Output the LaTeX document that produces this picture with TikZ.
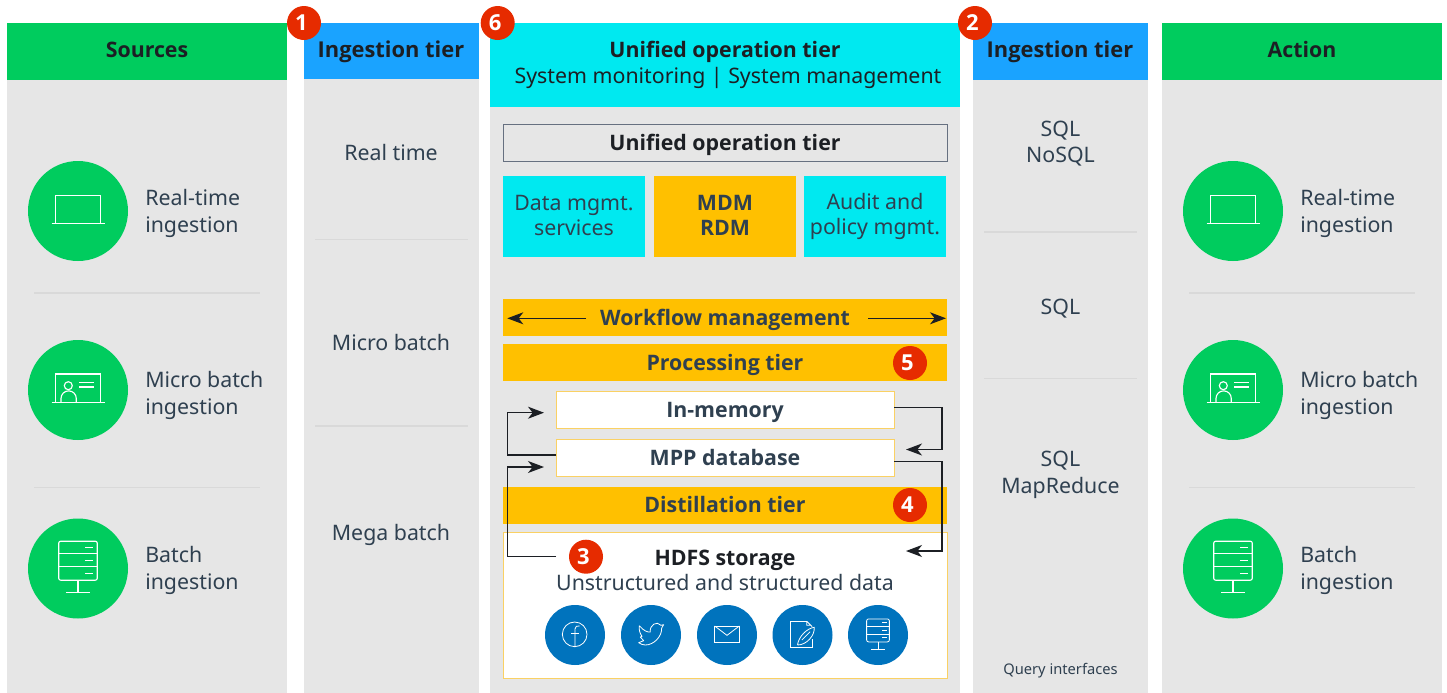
\documentclass[tikz,border=0pt]{standalone}
\usepackage{fontspec}
\setmainfont{Noto Sans}
\newfontfamily\osans{Open Sans}
\newcommand{\bs}{\osans\bfseries}
\usetikzlibrary{arrows.meta,calc}
\definecolor{grn}{HTML}{00CC5E}
\definecolor{skyb}{HTML}{1AA3FF}
\definecolor{cyn}{HTML}{00E9F0}
\definecolor{amb}{HTML}{FFC000}
\definecolor{pan}{HTML}{E6E6E6}
\definecolor{sep}{HTML}{D9D9D9}
\definecolor{badg}{HTML}{E62B00}
\definecolor{bluc}{HTML}{0073BD}
\definecolor{ylw}{HTML}{FAD164}
\definecolor{slate}{HTML}{2F4050}
\definecolor{ink}{HTML}{1C1F24}
\definecolor{edge}{HTML}{667080}
\newcommand{\fs}{\fontsize{16pt}{20pt}\selectfont}
\newcommand{\pxbox}[7]{\node[#2,anchor=north west,inner sep=0pt,outer sep=0pt,minimum width={(#5-#3)*0.75pt},minimum height={(#6-#4)*0.75pt}] (#1) at (#3,#4) {#7};}
\tikzset{
 x=0.75pt,y=-0.75pt,
 panel/.style={fill=pan},
 hgreen/.style={fill=grn},
 hblue/.style={fill=skyb},
 hcyan/.style={fill=cyn},
 hamber/.style={fill=amb},
 yellowbox/.style={fill=white,draw=ylw,line width=0.7pt},
 greybox/.style={fill=pan,draw=edge,line width=0.7pt},
 head/.style={anchor=base,font=\fs\bs,text=ink},
 headwide/.style={anchor=base,font=\fontsize{16.4pt}{20pt}\selectfont\bs,text=ink},
 headreg/.style={anchor=base,font=\fs,text=ink},
 tierlbl/.style={anchor=base,font=\fs\bs,text=slate},
 lbl/.style={anchor=base,font=\fs,text=slate},
 lbltwo/.style={align=center,font=\fontsize{16pt}{20pt}\selectfont,text=slate},
 lblleft/.style={align=left,anchor=west,inner sep=0pt,font=\fontsize{16pt}{20.25pt}\selectfont,text=slate},
 badge/.style={circle,fill=badg,text=white,font=\fontsize{16.5pt}{20pt}\selectfont\bs,minimum size=25.5pt,inner sep=0pt,execute at end node=\kern3.75pt},
 gcirc/.style={circle,fill=grn,minimum size=75pt,inner sep=0pt},
 bcirc/.style={circle,fill=bluc,minimum size=45pt,inner sep=0pt},
 sepline/.style={draw=sep,line width=0.8pt},
 conn/.style={draw=ink,line width=0.9pt,-{Stealth[length=12pt,width=9pt,inset=3.5pt]}},
 icon/.style={draw=white,line width=0.85pt},
 iconthin/.style={draw=white,line width=0.6pt},
 pics/laptop/.style={code={
   \draw[icon] (-22.3,12.3) -- (-22.3,-15.7) -- (22.7,-15.7) -- (22.7,12.3);
   \draw[icon] (-26.3,12.3) -- (26.7,12.3);}},
 pics/card/.style={code={
   \draw[icon] (-22.3,12.3) -- (-22.3,-16) -- (22.7,-16) -- (22.7,12.3);
   \draw[icon] (-26.3,12.3) -- (26.7,12.3);
   \draw[icon] (-9.7,-4.3) circle (4);
   \draw[icon] (-17,12.3) -- (-17,8.5) arc (180:360:7.65) -- (-1.7,12.3);
   \draw[icon] (1.3,-7.3) -- (16.3,-7.3) (1.3,-3) -- (16.3,-3);}},
 pics/server/.style={code={
   \draw[#1,rounded corners=1.5] (-19.3,-27.3) rectangle (19.3,11.7);
   \draw[#1] (-19.3,-14.6) -- (19.3,-14.6) (-19.3,-1.6) -- (19.3,-1.6);
   \draw[#1] (7,-20.7) -- (15.3,-20.7) (7,-8) -- (15.3,-8) (7,4.7) -- (15.3,4.7);
   \draw[#1] (0,11.7) -- (0,24.4) (-12,24.4) -- (12,24.4);}},
}
\begin{document}
\begin{tikzpicture}
\useasboundingbox (0,0) rectangle (1447,693);
% panels
\pxbox{psrc}{panel}{7}{23}{287}{693}{}
\pxbox{ping}{panel}{304}{23}{479}{693}{}
\pxbox{puni}{panel}{490}{23}{960}{693}{}
\pxbox{pout}{panel}{973}{23}{1148}{693}{}
\pxbox{pact}{panel}{1162}{23}{1442}{693}{}
% headers
\pxbox{hsrc}{hgreen}{7}{23}{287}{80}{}
\pxbox{hing}{hblue}{304}{23}{479}{79}{}
\pxbox{huni}{hcyan}{490}{23}{960}{107}{}
\pxbox{hout}{hblue}{973}{23}{1148}{80}{}
\pxbox{hact}{hgreen}{1162}{23}{1442}{80}{}
\node[head] (tsrc) at (147,57) {Sources};
\node[headwide] (ting) at (391,57) {Ingestion tier};
\node[head] (tuni) at (725,57) {Unified operation tier};
\node[headreg] (tuni2) at (728,83.5) {System monitoring | System management};
\node[headwide] (tout) at (1060,57) {Ingestion tier};
\node[head] (tact) at (1302,57) {Action};
% left column
\node[gcirc] (c1) at (78,211) {};
\node[gcirc] (c2) at (78,390) {};
\node[gcirc] (c3) at (78,568.5) {};
\pic at (c1) {laptop};
\pic at (c2) {card};
\pic at (c3) {server=icon};
\node[lblleft] (l1) at (145,213) {Real-time\\ingestion};
\node[lblleft] (l2) at (145,395) {Micro batch\\ingestion};
\node[lblleft] (l3) at (145,570) {Batch\\ingestion};
\coordinate (s1a) at (34,293); \coordinate (s1b) at (260,293);
\coordinate (s2a) at (34,487.5); \coordinate (s2b) at (260,487.5);
\draw[sepline] (s1a) -- (s1b) (s2a) -- (s2b);
% right column
\node[gcirc] (d1) at (1233,211) {};
\node[gcirc] (d2) at (1233,390) {};
\node[gcirc] (d3) at (1233,568.5) {};
\pic at (d1) {laptop};
\pic at (d2) {card};
\pic at (d3) {server=icon};
\node[lblleft] (r1) at (1300,213) {Real-time\\ingestion};
\node[lblleft] (r2) at (1300,395) {Micro batch\\ingestion};
\node[lblleft] (r3) at (1300,570) {Batch\\ingestion};
\coordinate (s3a) at (1189,293); \coordinate (s3b) at (1415,293);
\coordinate (s4a) at (1189,487.5); \coordinate (s4b) at (1415,487.5);
\draw[sepline] (s3a) -- (s3b) (s4a) -- (s4b);
% ingestion
\node[lbl] (i1) at (391,160) {Real time};
\node[lbl] (i2) at (391,350) {Micro batch};
\node[lbl] (i3) at (391,540) {Mega batch};
\coordinate (s5a) at (315,239.5); \coordinate (s5b) at (468,239.5);
\coordinate (s6a) at (315,426); \coordinate (s6b) at (468,426);
\draw[sepline] (s5a) -- (s5b) (s6a) -- (s6b);
% ingestion 2
\node[lbltwo,font=\fontsize{16pt}{19.5pt}\selectfont] (o1) at (1060.5,143.5) {SQL\\NoSQL};
\node[lbl] (o2) at (1060.5,314) {SQL};
\node[lbltwo] (o3) at (1060.5,475) {SQL\\MapReduce};
\node[anchor=base,font=\fontsize{11pt}{13pt}\selectfont,text=slate] (o4) at (1060.5,674) {Query interfaces};
\coordinate (s7a) at (984,232); \coordinate (s7b) at (1137,232);
\coordinate (s8a) at (984,378.5); \coordinate (s8b) at (1137,378.5);
\draw[sepline] (s7a) -- (s7b) (s8a) -- (s8b);
% centre
\pxbox{u1}{greybox}{503.5}{124}{947}{161}{}
\node[head] at (725,150) {Unified operation tier};
\pxbox{u2}{hcyan}{503}{176}{645}{257}{}
\pxbox{u3}{hamber}{654}{176}{796}{257}{}
\pxbox{u4}{hcyan}{804}{176}{946}{257}{}
\node[lbltwo,font=\fontsize{16pt}{18.75pt}\selectfont] at (574,215) {Data mgmt.\\services};
\node[lbltwo,font=\fontsize{16pt}{18.75pt}\selectfont\bs] at (725,215) {MDM\\RDM};
\node[lbltwo,font=\fontsize{16pt}{18.75pt}\selectfont] at (875,216) {Audit and\\policy mgmt.};
\pxbox{wf}{hamber}{503}{299}{947}{336}{}
\pxbox{proc}{hamber}{503}{344}{947}{381}{}
\pxbox{dist}{hamber}{503}{487}{947}{524}{}
\pxbox{mem}{yellowbox}{556}{391}{894}{428}{}
\pxbox{mpp}{yellowbox}{556}{439}{894}{476}{}
\pxbox{hdfs}{yellowbox}{503.5}{532}{947}{678}{}
\node[tierlbl] at (725,325.5) {Workflow management};
\node[tierlbl] at (725,370) {Processing tier};
\node[tierlbl] at (725,417) {In-memory};
\node[tierlbl] at (725,465) {MPP database};
\node[tierlbl] at (725,512) {Distillation tier};
\node[head] at (725,565) {HDFS storage};
\node[lbl] at (725,590) {Unstructured and structured data};
% workflow arrows
\coordinate (wl1) at (586,318.3); \coordinate (wl2) at (507.3,318.3);
\coordinate (wr1) at (868,318.3); \coordinate (wr2) at (946,318.3);
\draw[conn] (wl1) -- (wl2);
\draw[conn] (wr1) -- (wr2);
% connectors
\coordinate (a1) at (544,412.7);
\coordinate (a2) at (544,467);
\coordinate (a3s) at (556,556.3);
\coordinate (a4) at (906,449.5);
\coordinate (a5) at (906,551);
\coordinate (lx) at (507.7,0);
\coordinate (rx) at (942,0);
\coordinate (m1) at (894,407.3);
\coordinate (m2) at (894,461.7);
\draw[conn] ($(mpp.west)+(0,-2.5)$) -- (lx |- {$(mpp.west)+(0,-2.5)$}) -- (lx |- a1) -- (a1);
\draw[conn] (a3s) -- (lx |- a3s) -- (lx |- a2) -- (a2);
\draw[conn] (m1) -- (rx |- m1) -- (rx |- a4) -- (a4);
\draw[conn] (m2) -- (rx |- m2) -- (rx |- a5) -- (a5);
% blue circles
\node[bcirc] (b1) at (575,635) {};
\node[bcirc] (b2) at (651,635) {};
\node[bcirc] (b3) at (727,635) {};
\node[bcirc] (b4) at (802.5,635) {};
\node[bcirc] (b5) at (878,635) {};
% facebook
\begin{scope}[shift={(b1)},x=0.25pt,y=-0.25pt]
\draw[iconthin] (-1,-2) circle (37);
\draw[iconthin] (0,36) -- (0,-18) .. controls (0,-26) and (6,-29) .. (14,-27);
\draw[iconthin] (-12,-4) -- (12,-4);
\end{scope}
% twitter
\begin{scope}[shift={(b2)},x=0.25pt,y=-0.25pt]
\draw[iconthin,line join=round] (-35,-28) .. controls (-22,-12) and (-10,-8) .. (-2,-9)
 .. controls (-5,-30) and (18,-44) .. (30,-29) -- (38,-31) -- (32,-21)
 .. controls (33,5) and (8,30) .. (-17,30) .. controls (-24,30) and (-32,27) .. (-37,23)
 -- (-22,17) -- (-32,6) -- (-27,4) .. controls (-33,-4) and (-37,-16) .. (-35,-28);
\end{scope}
% mail
\begin{scope}[shift={(b3)},x=0.25pt,y=-0.25pt]
\draw[iconthin] (-37,-27) rectangle (37,22);
\draw[iconthin] (-37,-27) -- (0,1) -- (37,-27);
\end{scope}
% document
\begin{scope}[shift={(b4)},x=0.25pt,y=-0.25pt]
\draw[iconthin] (13,-41) -- (-36,-41) -- (-36,37) -- (29,37) -- (29,12);
\draw[iconthin] (13,-41) -- (29,-25) (13,-41) -- (13,-29) -- (25,-29);
\draw[iconthin] (-15,30) .. controls (-12,5) and (13,-20) .. (35,-23) .. controls (38,0) and (13,30) .. (-15,30);
\draw[iconthin] (-2,15) -- (23,-10);
\end{scope}
% server
\pic[scale=0.59] at (b5) {server=iconthin};
% badges
\node[badge] (n1) at (304,23) {1};
\node[badge] (n2) at (975,23) {2};
\node[badge] (n3) at (586,556.7) {3};
\node[badge] (n4) at (910,505) {4};
\node[badge] (n5) at (910,363) {5};
\node[badge] (n6) at (497.7,23) {6};
\end{tikzpicture}
\end{document}
